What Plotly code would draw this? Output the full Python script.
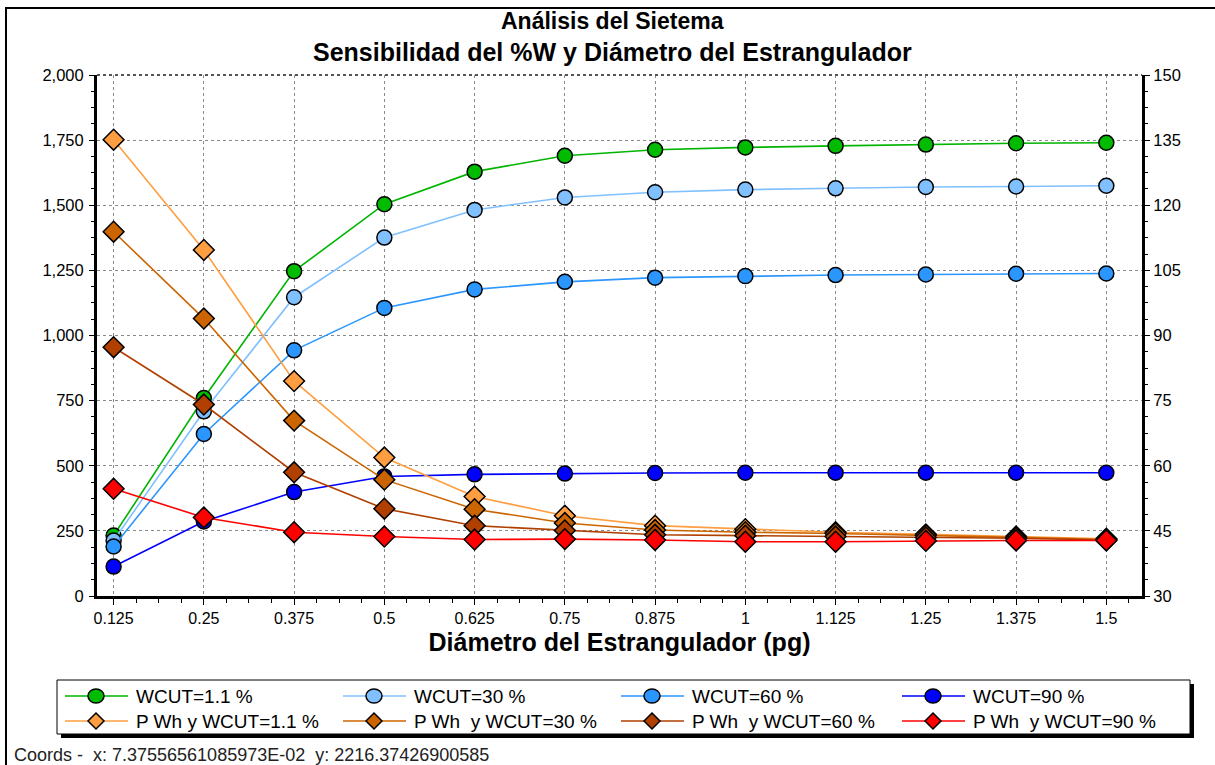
import plotly.graph_objects as go

# ---------------- data ----------------
diametro = [0.125, 0.25, 0.375, 0.5, 0.625, 0.75, 0.875, 1.0, 1.125, 1.25, 1.375, 1.5]
tick_labels = ["0.125", "0.25", "0.375", "0.5", "0.625", "0.75", "0.875", "1", "1.125", "1.25", "1.375", "1.5"]

wcut_1_1 = [232, 760, 1247, 1504, 1629, 1690, 1713, 1722, 1728, 1733, 1738, 1740]
wcut_30 = [213, 709, 1147, 1376, 1482, 1530, 1550, 1560, 1565, 1570, 1572, 1575]
wcut_60 = [190, 622, 943, 1106, 1177, 1206, 1222, 1228, 1232, 1234, 1237, 1238]
wcut_90 = [113, 286, 399, 459, 467, 470, 472, 473, 473, 473, 473, 473]

pwh_1_1 = [135.1, 109.7, 79.5, 61.9, 52.9, 48.5, 46.2, 45.4, 44.7, 44.2, 43.7, 43.2]
pwh_30 = [113.9, 93.9, 70.4, 56.8, 50.0, 46.8, 45.2, 44.7, 44.4, 44.0, 43.5, 43.0]
pwh_60 = [87.3, 74.1, 58.5, 50.1, 46.2, 45.1, 44.1, 43.9, 43.7, 43.5, 43.3, 42.9]
pwh_90 = [54.7, 48.1, 44.7, 43.7, 43.0, 43.1, 42.9, 42.5, 42.5, 42.7, 42.8, 42.8]

left_series = [
    ("WCUT=1.1 %", wcut_1_1, "#00B400", "#00BB00"),
    ("WCUT=30 %", wcut_30, "#80C0FF", "#80C0FF"),
    ("WCUT=60 %", wcut_60, "#2C96FF", "#2C96FF"),
    ("WCUT=90 %", wcut_90, "#0000FF", "#0000FF"),
]
right_series = [
    ("P Wh y WCUT=1.1 %", pwh_1_1, "#FF9E40", "#FF9E40"),
    ("P Wh  y WCUT=30 %", pwh_30, "#CC6500", "#CC6500"),
    ("P Wh  y WCUT=60 %", pwh_60, "#B03F00", "#B03F00"),
    ("P Wh  y WCUT=90 %", pwh_90, "#FF0000", "#FF0000"),
]

FONT = "Liberation Sans, Arial, sans-serif"

fig = go.Figure()
for name, vals, lc, mc in left_series:
    fig.add_trace(go.Scatter(
        x=diametro, y=vals, name=name, mode="lines+markers", yaxis="y",
        line=dict(color=lc, width=1.6), showlegend=False,
        marker=dict(symbol="circle", size=15, color=mc, line=dict(color="black", width=1.5)),
    ))
for name, vals, lc, mc in right_series:
    fig.add_trace(go.Scatter(
        x=diametro, y=vals, name=name, mode="lines+markers", yaxis="y2",
        line=dict(color=lc, width=1.6), showlegend=False,
        marker=dict(symbol="diamond", size=16, color=mc, line=dict(color="black", width=1.5)),
    ))

W, H = 1215, 765
L, R, T, B = 97, 1142, 75, 596
pw, ph = R - L, B - T

def px(xp):
    return (xp - L) / pw

def py(yp):
    return (B - yp) / ph

fig.update_layout(
    width=W, height=H,
    margin=dict(l=L, r=W - R, t=T, b=H - B, autoexpand=False),
    paper_bgcolor="white", plot_bgcolor="white",
    font=dict(family=FONT, size=16, color="black"),
    showlegend=False,
    xaxis=dict(
        range=[0.102, 1.5494], tickvals=diametro, ticktext=tick_labels,
        showline=True, linecolor="black", linewidth=3, mirror=False,
        ticks="outside", ticklen=6, tickcolor="black", tickwidth=1,
        showgrid=True, gridcolor="#8a8a8a", griddash="dot", gridwidth=1,
        zeroline=False,
        minor=dict(dtick=0.03125, tick0=0.125, ticks="outside", ticklen=4, tickcolor="black", showgrid=False),
        tickfont=dict(family=FONT, size=16),
        title=dict(text="<b>Diámetro del Estrangulador (pg)</b>", font=dict(family=FONT, size=25), standoff=8),
    ),
    yaxis=dict(
        range=[0, 2000], dtick=250, tickformat=",",
        showline=True, linecolor="black", linewidth=3,
        ticks="outside", ticklen=5, tickcolor="black",
        showgrid=True, gridcolor="#8a8a8a", griddash="dot", gridwidth=1,
        zeroline=False, ticklabelstandoff=2,
        minor=dict(dtick=62.5, ticks="outside", ticklen=3, tickcolor="black", showgrid=False),
        tickfont=dict(family=FONT, size=16.5),
    ),
    yaxis2=dict(
        range=[30, 150], dtick=15, overlaying="y", side="right",
        showline=True, linecolor="black", linewidth=3,
        ticks="outside", ticklen=5, tickcolor="black",
        showgrid=False, zeroline=False,
        minor=dict(dtick=3.75, ticks="outside", ticklen=3, tickcolor="black", showgrid=False),
        tickfont=dict(family=FONT, size=16.5),
    ),
)

shapes = [
    # outer frame (right and bottom edges fall outside the picture)
    dict(type="rect", xref="paper", yref="paper", x0=px(6), x1=px(1218), y0=py(768), y1=py(8),
         line=dict(color="black", width=2), fillcolor="rgba(0,0,0,0)", layer="below"),
    # top plot border (dotted)
    dict(type="line", xref="paper", yref="paper", x0=0, x1=1, y0=1, y1=1,
         line=dict(color="#555555", width=2, dash="dot")),
    # legend shadow + box
    dict(type="rect", xref="paper", yref="paper", x0=px(61), x1=px(1194), y0=py(738), y1=py(684),
         line=dict(color="black", width=0), fillcolor="black"),
    dict(type="rect", xref="paper", yref="paper", x0=px(57), x1=px(1190), y0=py(734), y1=py(680),
         line=dict(color="black", width=1), fillcolor="white"),
]

annotations = [
    dict(text="<b>Análisis del Sietema</b>", xref="paper", yref="paper", x=px(612), y=py(21),
         xanchor="center", yanchor="middle", showarrow=False, font=dict(family=FONT, size=23)),
    dict(text="<b>Sensibilidad del %W y Diámetro del Estrangulador</b>", xref="paper", yref="paper",
         x=px(612), y=py(52), xanchor="center", yanchor="middle", showarrow=False,
         font=dict(family=FONT, size=25)),
    dict(text="Coords -  x: 7.37556561085973E-02  y: 2216.37426900585", xref="paper", yref="paper",
         x=px(12), y=py(755), xanchor="left", yanchor="middle", showarrow=False,
         font=dict(family=FONT, size=18, color="#222222")),
]

# custom legend (4 columns x 2 rows)
col_x = [65, 343, 621, 902]
row_y = [696, 721]
entries = [(s, "circle", 0) for s in left_series] + [(s, "diamond", 1) for s in right_series]
for i, ((name, _vals, lc, mc), sym, row) in enumerate(entries):
    x0 = col_x[i % 4]
    yc = row_y[row]
    shapes.append(dict(type="line", xref="paper", yref="paper", x0=px(x0), x1=px(x0 + 63),
                       y0=py(yc), y1=py(yc), line=dict(color=lc, width=1.6)))
    if sym == "circle":
        shapes.append(dict(type="circle", xref="paper", yref="paper", xsizemode="pixel", ysizemode="pixel",
                           xanchor=px(x0 + 31), yanchor=py(yc), x0=-8, x1=8, y0=-7, y1=7,
                           fillcolor=mc, line=dict(color="black", width=1.5)))
    else:
        shapes.append(dict(type="path", xref="paper", yref="paper", xsizemode="pixel", ysizemode="pixel",
                           xanchor=px(x0 + 31), yanchor=py(yc), path="M 0,8 L 8,0 L 0,-8 L -8,0 Z",
                           fillcolor=mc, line=dict(color="black", width=1.5)))
    annotations.append(dict(text=name.replace("  ", "&nbsp; "), xref="paper", yref="paper",
                            x=px(x0 + 69), y=py(yc), xanchor="left", yanchor="middle",
                            showarrow=False, font=dict(family=FONT, size=19, color="black")))

fig.update_layout(shapes=shapes, annotations=annotations)

fig.write_html("out.html", config={"displayModeBar": False},
               post_script="document.body.style.margin='0px';document.body.style.overflow='hidden';")
